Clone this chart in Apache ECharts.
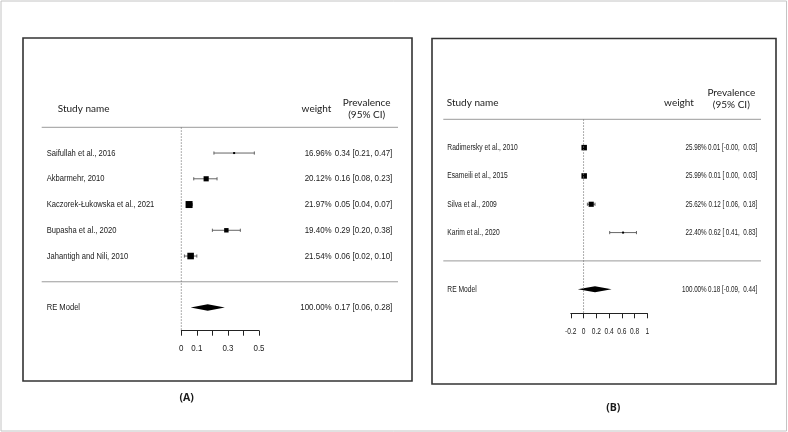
<!DOCTYPE html>
<html><head><meta charset="utf-8">
<script src="https://cdn.jsdelivr.net/npm/echarts@6/dist/echarts.min.js"></script>
<style>html,body{margin:0;padding:0;background:#fff}#c{width:788px;height:432px}</style>
</head><body><div id="c"></div>
<script>
// ---------- DATA ----------
const studiesA = ['Saifullah et al., 2016', 'Akbarmehr, 2010', 'Kaczorek-Łukowska et al., 2021', 'Bupasha et al., 2020', 'Jahantigh and Nili, 2010'];
const estA = [0.34, 0.16, 0.05, 0.29, 0.06];
const lowA = [0.21, 0.08, 0.04, 0.20, 0.02];
const highA = [0.47, 0.23, 0.07, 0.38, 0.10];
const weightA = [16.96, 20.12, 21.97, 19.40, 21.54];
const summaryA = [0.17, 0.06, 0.28, 100.00]; // est, low, high, weight
const ticksA = [0, 0.1, 0.2, 0.3, 0.4, 0.5];
const tickLabelsA = ['0', '0.1', '', '0.3', '', '0.5'];

const studiesB = ['Radimersky et al., 2010', 'Esameili et al., 2015', 'Silva et al., 2009', 'Karim et al., 2020'];
const estB = [0.01, 0.01, 0.12, 0.62];
const lowB = [-0.004, 0.00, 0.06, 0.41];
const highB = [0.03, 0.03, 0.18, 0.83];
const weightB = [25.98, 25.99, 25.62, 22.40];
const summaryB = [0.18, -0.09, 0.44, 100.00];
const ticksB = [-0.2, 0, 0.2, 0.4, 0.6, 0.8, 1];
const tickLabelsB = ['-0.2', '0', '0.2', '0.4', '0.6', '0.8', '1'];

const headerStudy = 'Study name';
const headerWeight = 'weight';
const headerPrev = ['Prevalence', '(95% CI)'];
const summaryName = 'RE Model';
const panelTitles = ['(A)', '(B)'];

// ---------- LAYOUT ----------
const ARIAL = "Liberation Sans";
const HEAD = "Lato";
const TXT = '#1a1a1a';

const panels = [
  {
    studies: studiesA, est: estA, low: lowA, high: highA, weight: weightA, summary: summaryA,
    ticks: ticksA, tickLabels: tickLabelsA,
    grid: { left: 181.3, width: 77.7, top: 127.3, height: 203.4 }, kMax: 7.9,
    xMin: 0, xMax: 0.5, interval: 0.1,
    nameX: 46.7, weightRight: 331.7, ciRight: 392.3, lineX1: 41.7, lineX2: 398,
    fs: 9.4, axisFs: 9.4, sxName: 0.81, sxNum: 0.85, sqMin: 2, sqMax: 7, diaH: 3.2,
    head: { study: [57.7, 108.3], weight: [316.5, 108.3], prev1: [366.7, 102.5], prev2: [366.7, 114.8] },
    box: [23, 38, 389, 343], title: [186.7, 398.3], pad: false
  },
  {
    studies: studiesB, est: estB, low: lowB, high: highB, weight: weightB, summary: summaryB,
    ticks: ticksB, tickLabels: tickLabelsB,
    grid: { left: 570.8, width: 76.5, top: 119.3, height: 194 }, kMax: 6.85,
    xMin: -0.2, xMax: 1, interval: 0.2,
    nameX: 447.3, weightRight: 706.7, ciRight: 757.3, lineX1: 443.3, lineX2: 761,
    fs: 8.4, axisFs: 8.8, sxName: 0.8, sxNum: 0.75, sqMin: 2, sqMax: 5.5, diaH: 3,
    head: { study: [446.7, 102.7], weight: [679, 102.7], prev1: [731.3, 92.3], prev2: [731.3, 104.3] },
    box: [432, 38.5, 344, 345.5], title: [613.3, 407.7], pad: true
  }
];

function f2(v, pad) {
  let s = v.toFixed(2);
  if (Math.abs(v) < 0.005 && v < 0) s = '-0.00';
  if (pad && s[0] !== '-') s = ' ' + s;
  return s;
}
function ciText(e, l, h, pad) { return f2(e, false) + ' [' + f2(l, pad) + ', ' + f2(h, pad) + ']'; }
function txt(x, y, text, family, size, align, weight, sx) {
  return { type: 'text', x: x, y: y, scaleX: sx || 1, scaleY: 1, silent: true,
    style: { text: text, x: 0, y: 0, fill: TXT, fontFamily: family, fontSize: size, fontWeight: weight || 'normal',
      align: align, textAlign: align, verticalAlign: 'middle', textVerticalAlign: 'middle' } };
}

const grids = [], xAxes = [], yAxes = [], series = [], graphics = [];

graphics.push({ type: 'rect', shape: { x: 1, y: 1, width: 785.5, height: 430 }, style: { fill: 'none', stroke: '#c4c4c4', lineWidth: 1 }, silent: true });

panels.forEach(function (p, gi) {
  const n = p.studies.length;
  const wMin = Math.min.apply(null, p.weight), wMax = Math.max.apply(null, p.weight);
  grids.push(p.grid);
  xAxes.push({
    gridIndex: gi, type: 'value', min: p.xMin, max: p.xMax, interval: p.interval,
    axisLine: { onZero: false, lineStyle: { color: '#222', width: 1 } },
    axisTick: { length: 5, lineStyle: { color: '#222', width: 1 } },
    axisLabel: { show: false },
    splitLine: { show: false }
  });
  yAxes.push({ gridIndex: gi, type: 'value', min: 0, max: p.kMax, inverse: true, show: false });

  // dotted reference line at 0
  series.push({
    type: 'line', xAxisIndex: gi, yAxisIndex: gi, data: [[0, 0], [0, p.kMax]], symbol: 'none', silent: true,
    lineStyle: { color: '#777', width: 0.8, type: [1.5, 1.5] }, animation: false
  });

  // tick labels (drawn at tick positions from the axis scale)
  series.push({
    type: 'custom', xAxisIndex: gi, yAxisIndex: gi, clip: false, silent: true, animation: false,
    data: p.ticks.map(function (t) { return [t, p.kMax]; }),
    renderItem: function (params, api) {
      const c = api.coord([api.value(0), api.value(1)]);
      return txt(c[0], c[1] + 18, p.tickLabels[params.dataIndex], ARIAL, p.axisFs, 'center', 'normal', p.sxNum);
    }
  });

  // separator lines (header line at k=0, bottom line at k=n+1)
  series.push({
    type: 'custom', xAxisIndex: gi, yAxisIndex: gi, clip: false, silent: true, animation: false,
    data: [[0, 0], [0, n + 1]],
    renderItem: function (params, api) {
      const y = api.coord([0, api.value(1)])[1];
      return { type: 'line', shape: { x1: p.lineX1, y1: y, x2: p.lineX2, y2: y }, style: { stroke: '#9a9a9a', lineWidth: 1 } };
    }
  });

  // study rows
  series.push({
    type: 'custom', xAxisIndex: gi, yAxisIndex: gi, clip: false, silent: true, animation: false,
    data: p.studies.map(function (s, i) { return [p.est[i], i + 1]; }),
    renderItem: function (params, api) {
      const i = params.dataIndex, k = i + 1;
      const a = api.coord([p.low[i], k]), b = api.coord([p.high[i], k]), c = api.coord([p.est[i], k]);
      const s = p.sqMin + (p.weight[i] - wMin) / (wMax - wMin) * (p.sqMax - p.sqMin);
      return { type: 'group', children: [
        { type: 'line', shape: { x1: a[0], y1: a[1], x2: b[0], y2: b[1] }, style: { stroke: '#555', lineWidth: 0.9 } },
        { type: 'line', shape: { x1: a[0], y1: a[1] - 1.6, x2: a[0], y2: a[1] + 1.6 }, style: { stroke: '#555', lineWidth: 0.9 } },
        { type: 'line', shape: { x1: b[0], y1: b[1] - 1.6, x2: b[0], y2: b[1] + 1.6 }, style: { stroke: '#555', lineWidth: 0.9 } },
        { type: 'rect', shape: { x: c[0] - s / 2, y: c[1] - s / 2, width: s, height: s }, style: { fill: '#000' } },
        txt(p.nameX, c[1], p.studies[i], ARIAL, p.fs, 'left', 'normal', p.sxName),
        txt(p.weightRight, c[1], p.weight[i].toFixed(2) + '%', ARIAL, p.fs, 'right', 'normal', p.sxNum),
        txt(p.ciRight, c[1], ciText(p.est[i], p.low[i], p.high[i], p.pad), ARIAL, p.fs, 'right', 'normal', p.sxNum)
      ] };
    }
  });

  // summary diamond
  series.push({
    type: 'custom', xAxisIndex: gi, yAxisIndex: gi, clip: false, silent: true, animation: false,
    data: [[p.summary[0], n + 2]],
    renderItem: function (params, api) {
      const k = n + 2, sm = p.summary;
      const l = api.coord([sm[1], k]), e = api.coord([sm[0], k]), h = api.coord([sm[2], k]);
      return { type: 'group', children: [
        { type: 'polygon', shape: { points: [[l[0], l[1]], [e[0], e[1] - p.diaH], [h[0], h[1]], [e[0], e[1] + p.diaH]] }, style: { fill: '#000' } },
        txt(p.nameX, e[1], summaryName, ARIAL, p.fs, 'left', 'normal', p.sxName),
        txt(p.weightRight, e[1], sm[3].toFixed(2) + '%', ARIAL, p.fs, 'right', 'normal', p.sxNum),
        txt(p.ciRight, e[1], ciText(sm[0], sm[1], sm[2], p.pad), ARIAL, p.fs, 'right', 'normal', p.sxNum)
      ] };
    }
  });

  // box, headers, title
  graphics.push({ type: 'rect', shape: { x: p.box[0], y: p.box[1], width: p.box[2], height: p.box[3] }, style: { fill: 'none', stroke: '#333', lineWidth: 1.6 }, silent: true });
  graphics.push(txt(p.head.study[0], p.head.study[1], headerStudy, HEAD, 10, 'left'));
  graphics.push(txt(p.head.weight[0], p.head.weight[1], headerWeight, HEAD, 10, 'center'));
  graphics.push(txt(p.head.prev1[0], p.head.prev1[1], headerPrev[0], HEAD, 10, 'center'));
  graphics.push(txt(p.head.prev2[0], p.head.prev2[1], headerPrev[1], HEAD, 10, 'center'));
  graphics.push(txt(p.title[0], p.title[1], panelTitles[gi], 'Open Sans', 10.5, 'center', 'bold'));
});

const chart = echarts.init(document.getElementById('c'), null, { renderer: 'canvas' });
chart.setOption({
  animation: false,
  backgroundColor: '#fff',
  grid: grids, xAxis: xAxes, yAxis: yAxes, series: series, graphic: graphics
});
</script></body></html>
